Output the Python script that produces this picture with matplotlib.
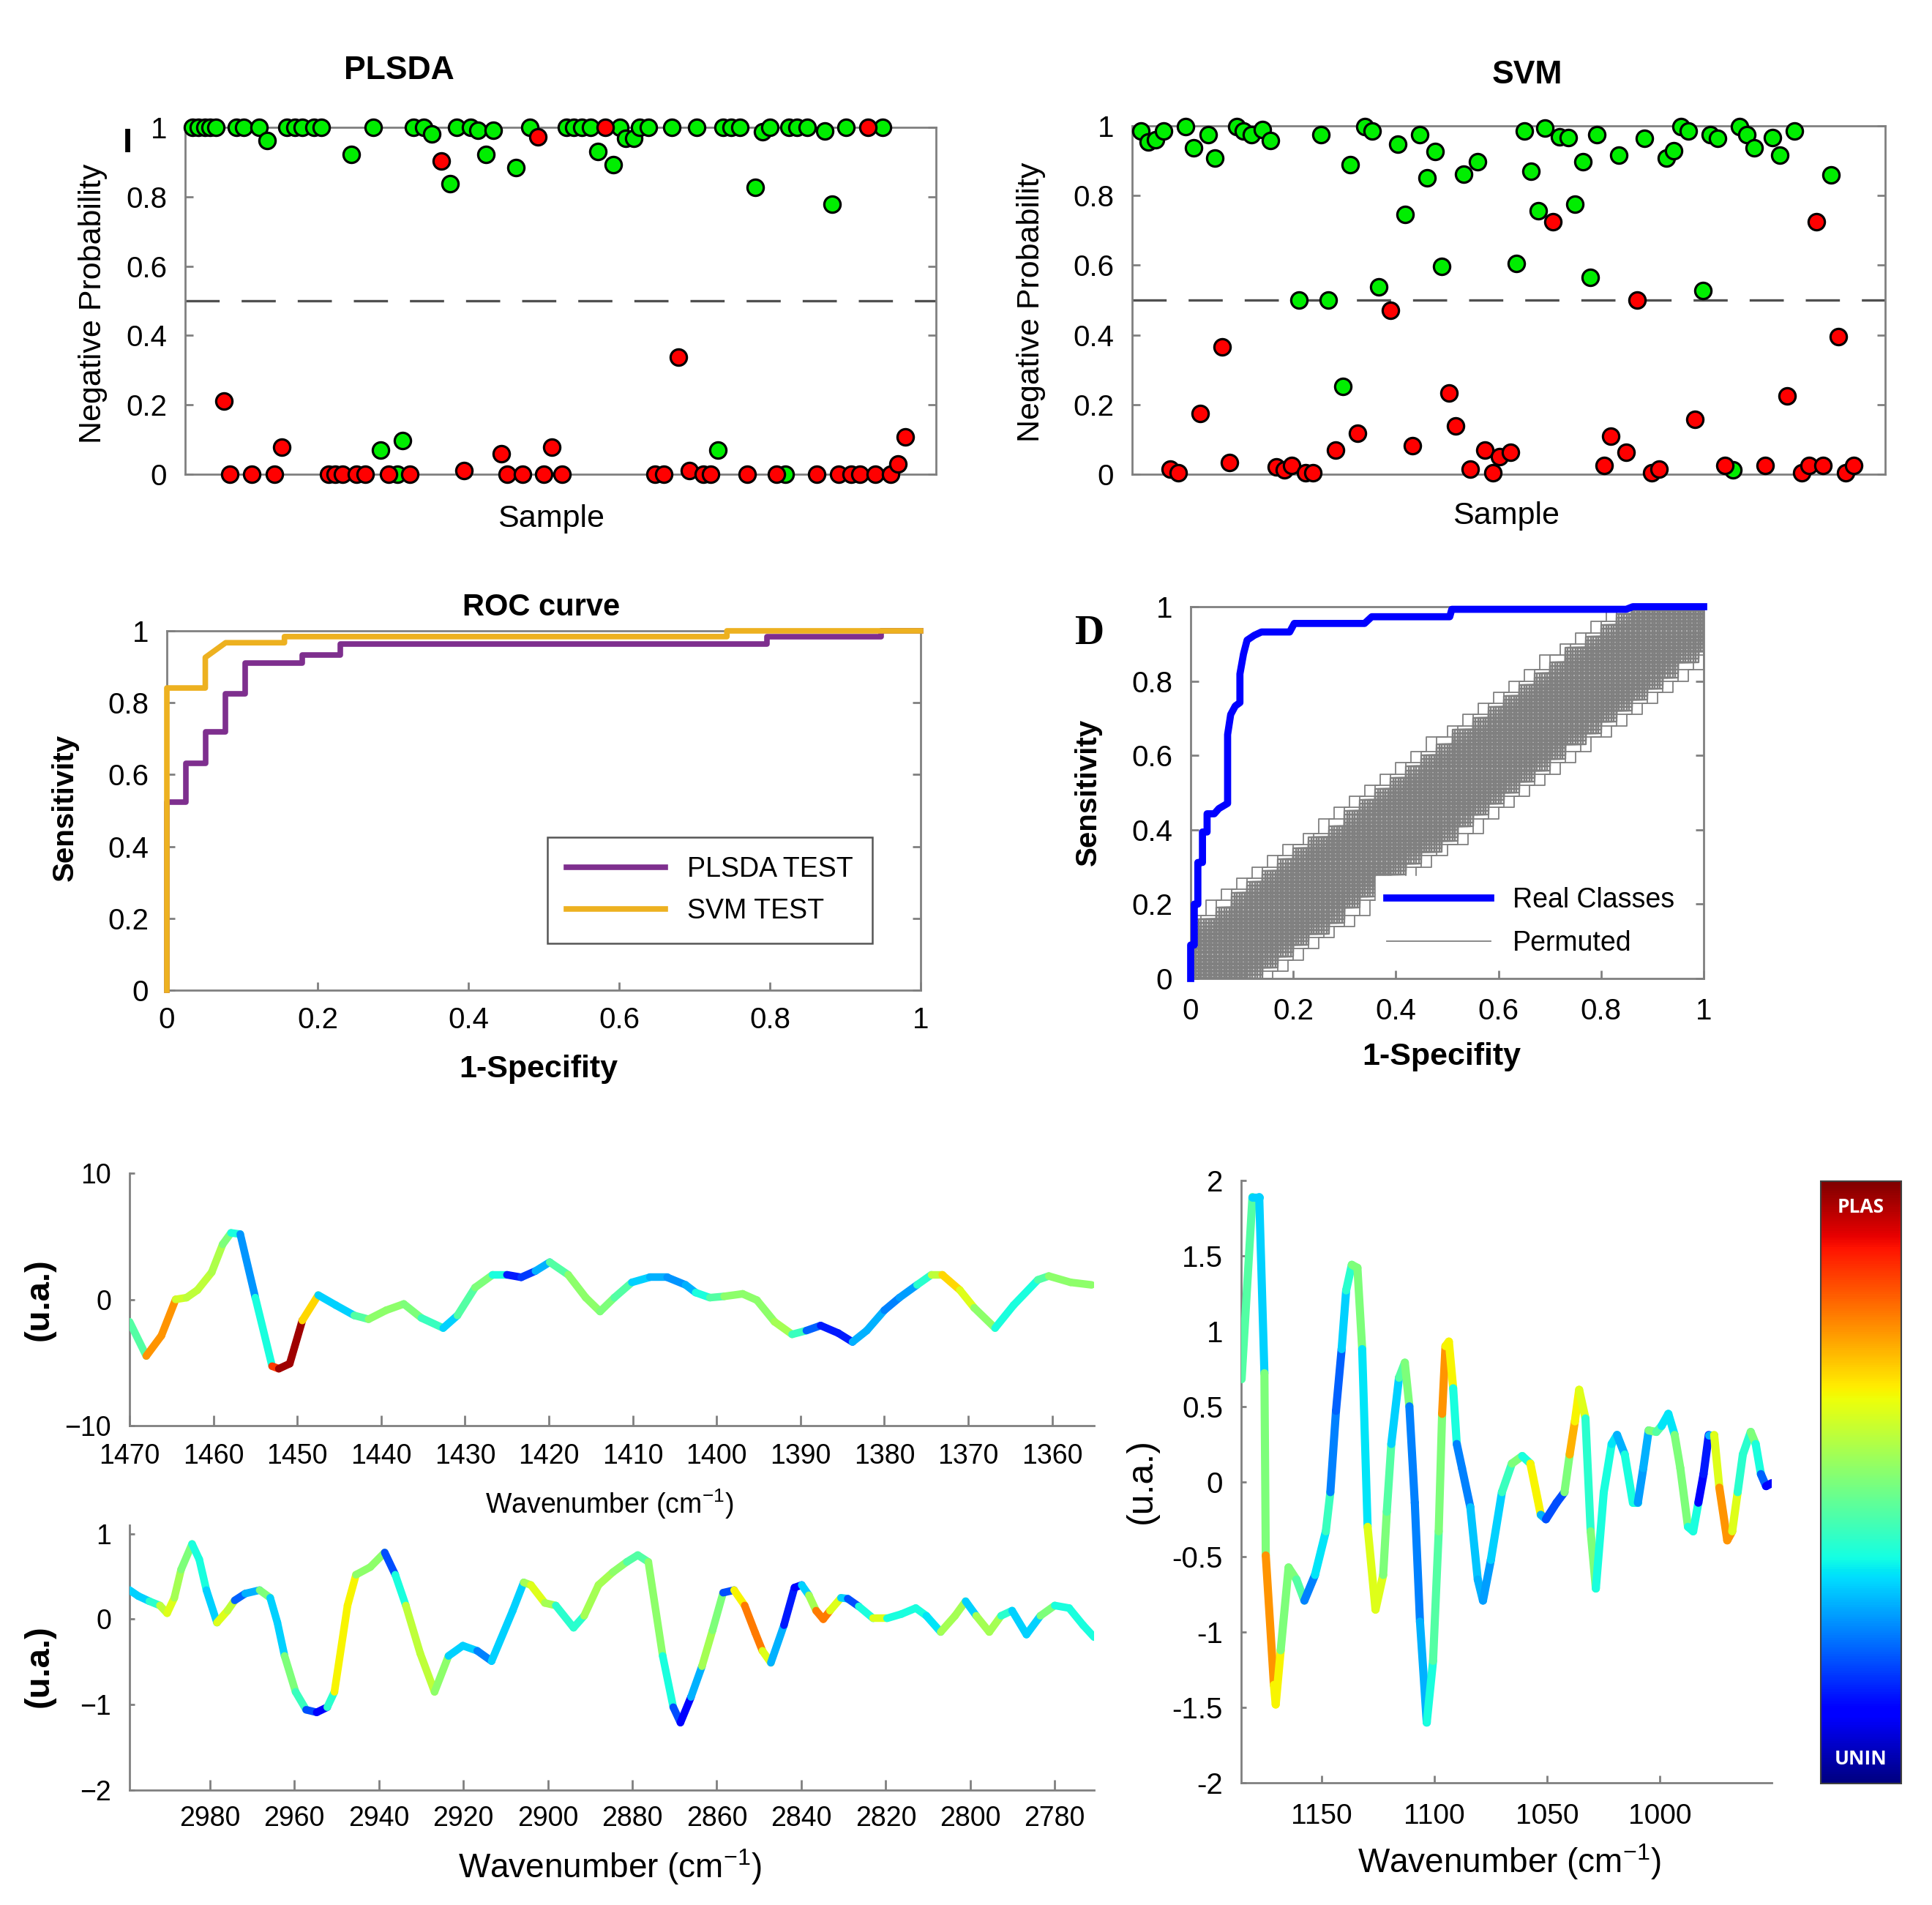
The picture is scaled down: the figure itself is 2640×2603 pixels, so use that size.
"""
Classification summary figure: PLSDA / SVM probabilities, ROC curves,
permutation test and discriminant spectra coloured by class weight.
"""

import matplotlib
matplotlib.use('Agg')
import matplotlib as mpl
import matplotlib.pyplot as plt
import numpy as np
from matplotlib.collections import LineCollection

W, H = 2640, 2603
REGULAR = ['Liberation Sans', 'DejaVu Sans']
plt.rcParams['font.family'] = REGULAR
plt.rcParams['mathtext.default'] = 'regular'

GREEN = '#00ee00'
RED = '#ff0000'
SPINE = '#808080'
PERM_GRAY = '#808080'

# ---- PLSDA negative probability per sample ----
PLSDA_NEG_X = [0.93, 1.77, 2.61, 3.29, 4.13, 6.82, 7.84, 9.86, 10.88, 13.57, 14.58, 15.59,
               17.11, 18.12, 22.17, 25.04, 26.05, 28.25, 28.92, 30.44, 31.78, 32.8, 35.32,
               36.17, 38.02, 39.03, 40.05, 41.06, 44.1, 45.95, 50.76, 51.77, 52.79, 53.96,
               55.0, 57.01, 57.85, 58.69, 59.7, 60.55, 61.72, 64.77, 68.13, 71.0, 71.68,
               72.69, 73.87, 75.89, 76.9, 77.92, 79.93, 80.44, 81.45, 82.8, 85.17, 86.18,
               88.03, 92.92]
PLSDA_NEG_Y = [1, 1, 1, 1, 1, 1, 1, 1, 0.961, 1, 1, 1,
               1, 1, 0.922, 1, 0.069, 0.0, 0.098, 1, 1, 0.982, 0.837,
               1, 1, 0.991, 0.922, 0.991, 0.883, 1, 1, 1, 1, 1,
               0.931, 0.892, 1, 0.968, 0.968, 1, 1, 1, 1, 0.069, 1,
               1, 1, 0.827, 0.988, 1, 0.0, 1, 1, 1, 0.989, 0.779,
               1, 1]
PLSDA_POS_X = [5.14, 5.98, 8.85, 11.88, 12.9, 19.13, 19.98, 20.99, 22.85, 24.02, 27.07,
               29.93, 34.14, 37.18, 42.07, 42.91, 44.93, 46.96, 47.8, 48.8, 50.2, 55.99,
               62.56, 63.75, 65.7, 67.12, 68.98, 69.99, 74.87, 78.75, 84.15, 87.02, 88.71,
               89.88, 90.9, 91.9, 93.93, 94.94, 95.89]
PLSDA_POS_Y = [0.212, 0, 0, 0, 0.078, 0, 0, 0, 0, 0, 0,
               0, 0.903, 0.011, 0.06, 0, 0, 0.972, 0, 0.078, 0, 1,
               0, 0, 0.338, 0.011, 0, 0, 0, 0, 0, 0, 0,
               0, 1, 0, 0, 0.03, 0.107]

# ---- SVM negative probability per sample ----
SVM_NEG_X = [1.17, 2.18, 3.09, 4.2, 7.06, 8.13, 10.08, 11.03, 13.85, 14.73, 15.8, 17.32,
             18.33, 22.13, 25.05, 26.0, 27.98, 28.99, 30.94, 31.89, 32.79, 35.25, 36.26,
             38.18, 39.18, 40.19, 41.13, 43.99, 45.91, 51.05, 52.06, 52.97, 53.91, 54.85,
             56.77, 57.88, 58.79, 59.87, 60.81, 61.72, 64.61, 68.04, 70.9, 71.9, 72.91,
             73.83, 75.84, 76.78, 77.73, 79.82, 80.65, 81.6, 82.57, 85.03, 86.04, 87.96,
             92.77]
SVM_NEG_Y = [0.986, 0.954, 0.961, 0.986, 0.997, 0.937, 0.975, 0.907, 0.997, 0.986, 0.975, 0.99,
             0.957, 0.5, 0.975, 0.5, 0.252, 0.888, 0.997, 0.986, 0.537, 0.947, 0.746,
             0.975, 0.851, 0.926, 0.596, 0.861, 0.898, 0.604, 0.986, 0.870, 0.756, 0.994,
             0.968, 0.966, 0.776, 0.898, 0.566, 0.975, 0.917, 0.965, 0.907, 0.929, 0.997,
             0.986, 0.527, 0.975, 0.965, 0.013, 0.997, 0.975, 0.937, 0.966, 0.917, 0.986,
             0.86]
SVM_POS_X = [5.04, 6.15, 9.07, 11.94, 12.94, 19.17, 20.18, 21.19, 23.04, 24.05, 26.97,
             29.93, 34.31, 37.23, 42.04, 42.98, 44.9, 46.85, 47.93, 48.77, 50.28, 55.86,
             62.66, 63.6, 65.61, 67.03, 68.98, 69.99, 74.77, 78.74, 84.02, 86.98, 88.9,
             89.91, 90.85, 91.76, 93.78, 94.78, 95.79]
SVM_POS_Y = [0.015, 0.005, 0.175, 0.366, 0.033, 0.022, 0.012, 0.025, 0.005, 0.005, 0.07,
             0.118, 0.471, 0.081, 0.233, 0.138, 0.014, 0.07, 0.005, 0.05, 0.062, 0.725,
             0.025, 0.109, 0.062, 0.5, 0.005, 0.014, 0.158, 0.025, 0.025, 0.224, 0.005,
             0.025, 0.725, 0.025, 0.394, 0.005, 0.025]

PROB_TICKS = [0, 0.2, 0.4, 0.6, 0.8, 1]

# ---- ROC curves (step vertices) ----
PLSDA_FPR = [0, 0, 0.025, 0.025, 0.051, 0.051, 0.078, 0.078, 0.104, 0.104, 0.18, 0.18,
             0.23, 0.23, 0.796, 0.796, 0.948, 0.948, 1.0]
PLSDA_TPR = [0, 0.524, 0.524, 0.632, 0.632, 0.718, 0.718, 0.824, 0.824, 0.911, 0.911, 0.932,
             0.932, 0.964, 0.964, 0.984, 0.984, 1.0, 1.0]
SVM_FPR = [0, 0, 0.051, 0.051, 0.078, 0.156, 0.156, 0.743, 0.743, 1.0]
SVM_TPR = [0, 0.841, 0.841, 0.926, 0.967, 0.967, 0.984, 0.984, 1.0, 1.0]

# ---- permutation test ----
REAL_FPR = [0, 0, 0.007, 0.007, 0.014, 0.014, 0.023, 0.023, 0.032, 0.032,
            0.046, 0.055, 0.072, 0.072, 0.078, 0.087, 0.096, 0.096, 0.103, 0.11,
            0.124, 0.138, 0.193, 0.202, 0.339, 0.353, 0.505, 0.509, 0.849, 0.862, 1.0]
REAL_TPR = [0, 0.09, 0.09, 0.2, 0.2, 0.312, 0.312, 0.394, 0.394, 0.443,
            0.443, 0.457, 0.471, 0.656, 0.71, 0.733, 0.742, 0.819, 0.873, 0.91,
            0.923, 0.932, 0.932, 0.955, 0.955, 0.973, 0.973, 0.993, 0.993, 1.0, 1.0]
# permuted curves: a shared fine staircase seen at many offsets
PERM_RISE_X = [0.00, 0.03, 0.06, 0.09, 0.12, 0.16, 0.19, 0.22, 0.25, 0.28, 0.31, 0.34,
               0.38, 0.41, 0.44, 0.47, 0.50, 0.53, 0.56, 0.59, 0.62, 0.66, 0.69, 0.72,
               0.75, 0.78, 0.81, 0.84, 0.88, 0.91, 0.94, 0.97]
PERM_LEVEL_Y = [0.02, 0.05, 0.08, 0.11, 0.14, 0.17, 0.21, 0.24, 0.27, 0.30, 0.33, 0.36,
                0.39, 0.43, 0.46, 0.49, 0.52, 0.55, 0.58, 0.61, 0.65, 0.68, 0.71, 0.74,
                0.77, 0.80, 0.83, 0.87, 0.90, 0.93, 0.96, 1.00]
PERM_OFFSETS = [-0.11, -0.105, -0.10, -0.095, -0.09, -0.085, -0.08, -0.075, -0.07, -0.065,
                -0.06, -0.055, -0.05, -0.045, -0.04, -0.035, -0.03, -0.025, -0.02, -0.015,
                -0.01, -0.005, 0.0, 0.005, 0.01, 0.015, 0.02, 0.025, 0.03, 0.035, 0.04,
                0.045, 0.05, 0.055, 0.06, 0.065, 0.07, 0.075, 0.08, 0.085, 0.09, 0.095,
                0.10, 0.105, 0.11]
PERM_LIFTS = [-0.02, -0.01, 0.0, 0.01, 0.02]
PERM_OUTLIERS = [-0.16, -0.14, 0.14, 0.16]

# ---- spectrum 1470-1355 cm-1 ----
TOP_WN = [1470, 1468, 1466.2, 1464.5, 1463.2, 1461.9, 1460.2, 1458.9, 1457.9, 1456.8,
          1455, 1453, 1452.2, 1450.9, 1449.4, 1447.5, 1445.4, 1443.2, 1441.5, 1439.4,
          1437.3, 1435.2, 1432.6, 1430.9, 1428.8, 1426.7, 1425, 1423.3, 1421.6, 1419.9,
          1417.7, 1415.6, 1413.9, 1412.2, 1410.1, 1408, 1405.9, 1403.7, 1402.5, 1400.8,
          1399.1, 1396.9, 1395.2, 1393.1, 1391, 1389.3, 1387.6, 1385.5, 1383.8, 1382.1,
          1380, 1378.2, 1376.1, 1374.4, 1373.1, 1371, 1369.3, 1366.8, 1364.6, 1361.7,
          1360.4, 1357.8, 1355.3]
TOP_VAL = [-1.77, -4.48, -2.87, 0, 0.14, 0.74, 2.15, 4.36, 5.27, 5.17,
           0.14, -5.29, -5.49, -5.09, -1.67, 0.34, -0.46, -1.27, -1.57, -0.86,
           -0.36, -1.47, -2.27, -1.27, 0.94, 1.95, 1.95, 1.75, 2.25, 2.95,
           1.95, 0.14, -0.96, 0.14, 1.35, 1.75, 1.75, 1.15, 0.54, 0.14,
           0.24, 0.44, -0.06, -1.77, -2.77, -2.47, -2.07, -2.67, -3.37, -2.47,
           -0.86, 0.14, 1.15, 1.95, 1.95, 0.74, -0.66, -2.27, -0.46, 1.55,
           1.85, 1.35, 1.15]
TOP_COL = [0.45, 0.75, 0.75, 0.6, 0.58, 0.58, 0.56, 0.5, 0.38, 0.27,
           0.38, 0.85, 0.97, 0.97, 0.68, 0.33, 0.33, 0.45, 0.52, 0.52,
           0.5, 0.42, 0.33, 0.45, 0.5, 0.38, 0.15, 0.18, 0.3, 0.45,
           0.52, 0.52, 0.5, 0.45, 0.33, 0.3, 0.27, 0.3, 0.38, 0.45,
           0.52, 0.52, 0.52, 0.55, 0.42, 0.22, 0.15, 0.15, 0.3, 0.3,
           0.25, 0.28, 0.4, 0.58, 0.68, 0.62, 0.52, 0.38, 0.38, 0.45,
           0.52, 0.52, 0.52]

# ---- spectrum 3000-2770 cm-1 ----
BOT_WN = [2999, 2996.9, 2994.3, 2991.8, 2990.1, 2988.4, 2986.8, 2984.2, 2982.5, 2980.8,
          2978.3, 2975.8, 2974.1, 2971.6, 2968.2, 2965.7, 2964, 2962.3, 2959.7, 2957.2,
          2954.7, 2952.2, 2950.5, 2947.4, 2945.4, 2942, 2938.6, 2936.1, 2933.6, 2930.2,
          2926.8, 2923.5, 2920.1, 2916.7, 2913.3, 2908.3, 2905.7, 2904, 2900.7, 2898.1,
          2893.9, 2891.4, 2888, 2884.6, 2881.3, 2878.7, 2876.2, 2872.8, 2870.3, 2868.6,
          2866.1, 2863.5, 2861, 2858.5, 2855.9, 2853.4, 2850.9, 2849.2, 2847.2, 2844.1,
          2841.6, 2839.9, 2838.2, 2836.5, 2834.8, 2833.2, 2830.6, 2829, 2826.4, 2823,
          2819.7, 2816.3, 2812.9, 2810.4, 2807, 2803.6, 2801.1, 2798.6, 2795.5, 2792.7,
          2790.1, 2786.7, 2783.4, 2780, 2776.6, 2773.3, 2770.7]
BOT_VAL = [0.34, 0.27, 0.21, 0.16, 0.07, 0.25, 0.58, 0.88, 0.70, 0.34,
           -0.04, 0.10, 0.22, 0.30, 0.34, 0.25, -0.04, -0.43, -0.85, -1.06,
           -1.09, -1.03, -0.85, 0.16, 0.52, 0.61, 0.78, 0.52, 0.16, -0.40,
           -0.85, -0.43, -0.31, -0.37, -0.49, 0.10, 0.43, 0.40, 0.19, 0.16,
           -0.10, 0.04, 0.40, 0.55, 0.67, 0.75, 0.67, -0.43, -1.03, -1.21,
           -0.91, -0.55, -0.13, 0.31, 0.34, 0.16, -0.16, -0.37, -0.51, -0.07,
           0.37, 0.40, 0.28, 0.10, 0.0, 0.10, 0.25, 0.24, 0.15, 0.01,
           0.01, 0.06, 0.13, 0.04, -0.15, 0.04, 0.21, 0.04, -0.15, 0.04,
           0.10, -0.18, 0.04, 0.16, 0.13, -0.07, -0.21]
BOT_COL = [0.33, 0.33, 0.4, 0.58, 0.62, 0.55, 0.5, 0.38, 0.38, 0.33,
           0.62, 0.58, 0.22, 0.3, 0.5, 0.33, 0.33, 0.5, 0.42, 0.2,
           0.12, 0.4, 0.65, 0.65, 0.52, 0.52, 0.2, 0.38, 0.58, 0.58,
           0.52, 0.33, 0.33, 0.25, 0.33, 0.33, 0.55, 0.62, 0.55, 0.4,
           0.4, 0.55, 0.55, 0.52, 0.45, 0.45, 0.52, 0.38, 0.2, 0.12,
           0.3, 0.55, 0.5, 0.2, 0.65, 0.78, 0.78, 0.62, 0.3, 0.15,
           0.12, 0.33, 0.55, 0.78, 0.78, 0.62, 0.33, 0.2, 0.38, 0.62,
           0.38, 0.38, 0.38, 0.35, 0.55, 0.55, 0.33, 0.55, 0.55, 0.4,
           0.33, 0.33, 0.5, 0.38, 0.38, 0.38, 0.52]

# ---- spectrum 1185-950 cm-1 ----
R_WN = [1185.3, 1180.5, 1177.5, 1175.2, 1174.6, 1171.0, 1170.2, 1168.0, 1164.5, 1161.0,
        1157.5, 1152.8, 1148.0, 1146.0, 1143.5, 1141.0, 1139.0, 1136.5, 1134.0, 1131.9,
        1129.5, 1126.0, 1122.6, 1121.0, 1119.0, 1115.6, 1113.0, 1111.0, 1108.6, 1106.3,
        1103.3, 1100.5, 1098.0, 1096.5, 1095.0, 1093.5, 1091.6, 1090.0, 1087.7, 1084.0,
        1080.7, 1078.4, 1074.9, 1070.0, 1065.6, 1061.0, 1057.4, 1052.8, 1050.5, 1045.8,
        1042.3, 1040.0, 1037.7, 1035.8, 1033.0, 1030.7, 1028.4, 1024.9, 1021.4, 1019.0,
        1015.6, 1012.0, 1009.8, 1007.4, 1005.0, 1001.6, 999.3, 996.3, 993.5, 991.0,
        987.6, 985.3, 983.0, 980.7, 978.4, 976.0, 973.7, 970.2, 968.0, 965.6,
        963.3, 959.8, 957.6, 955.3, 953.0, 950.5]
R_VAL = [0.68, 1.89, 1.89, 0.72, -0.49, -1.35, -1.48, -1.12, -0.57, -0.65,
         -0.79, -0.62, -0.33, -0.07, 0.47, 0.88, 1.27, 1.44, 1.42, 0.88,
         -0.30, -0.85, -0.62, -0.20, 0.25, 0.69, 0.79, 0.50, -0.14, -0.93,
         -1.60, -1.19, -0.33, 0.45, 0.90, 0.93, 0.62, 0.25, 0.09, -0.17,
         -0.65, -0.79, -0.52, -0.07, 0.12, 0.17, 0.12, -0.22, -0.25, -0.14,
         -0.07, 0.18, 0.40, 0.61, 0.42, -0.33, -0.71, -0.07, 0.25, 0.31,
         0.18, -0.14, -0.14, 0.09, 0.34, 0.33, 0.37, 0.45, 0.31, 0.09,
         -0.30, -0.33, -0.14, 0.05, 0.31, 0.31, -0.04, -0.39, -0.33, -0.07,
         0.18, 0.33, 0.25, 0.05, -0.03, -0.01]
R_COL = [0.45, 0.33, 0.33, 0.5, 0.75, 0.65, 0.65, 0.5, 0.5, 0.45,
         0.25, 0.35, 0.42, 0.25, 0.22, 0.33, 0.4, 0.5, 0.5, 0.35,
         0.62, 0.62, 0.5, 0.45, 0.33, 0.45, 0.5, 0.25, 0.25, 0.3,
         0.38, 0.45, 0.5, 0.75, 0.65, 0.65, 0.38, 0.25, 0.25, 0.32,
         0.3, 0.28, 0.33, 0.42, 0.5, 0.38, 0.65, 0.3, 0.2, 0.2,
         0.5, 0.72, 0.65, 0.62, 0.4, 0.5, 0.38, 0.38, 0.35, 0.3,
         0.38, 0.38, 0.28, 0.3, 0.5, 0.45, 0.35, 0.35, 0.5, 0.5,
         0.38, 0.38, 0.12, 0.15, 0.3, 0.62, 0.75, 0.75, 0.62, 0.4,
         0.4, 0.5, 0.38, 0.22, 0.12, 0.12]


fig = plt.figure(figsize=(W / 100, H / 100), dpi=100)


def add_axes_px(x0, y0, x1, y1):
    """Axes from pixel box (top-left origin)."""
    return fig.add_axes([x0 / W, 1 - y1 / H, (x1 - x0) / W, (y1 - y0) / H])


def text_px(x, y, s, size, **kw):
    kw.setdefault('ha', 'center')
    kw.setdefault('va', 'center')
    fig.text(x / W, 1 - y / H, s, fontsize=size, **kw)


def style_spines(ax, sides=('left', 'right', 'top', 'bottom')):
    for name, sp in ax.spines.items():
        if name in sides:
            sp.set_color(SPINE)
            sp.set_linewidth(2)
        else:
            sp.set_visible(False)


def fmt(v):
    return f'{v:g}'


def prob_panel(ax, neg_x, neg_y, pos_x, pos_y):
    ax.axhline(0.5, color='#505050', lw=2.4, dashes=(14, 9), zorder=1)
    ax.plot(neg_x, neg_y, 'o', ms=16, mfc=GREEN, mec='black', mew=2.3,
            clip_on=False, zorder=3)
    ax.plot(pos_x, pos_y, 'o', ms=16, mfc=RED, mec='black', mew=2.3,
            clip_on=False, zorder=3)
    ax.set_xlim(0, 100)
    ax.set_ylim(0, 1)
    ax.set_xticks([])
    ax.set_yticks(PROB_TICKS)
    ax.set_yticklabels([fmt(v) for v in PROB_TICKS])
    ax.tick_params(axis='y', direction='in', left=True, right=True, length=8,
                   width=2, color=SPINE, labelsize=29, pad=18)
    style_spines(ax)


def roc_axes(ax, pad_x):
    ax.set_xlim(0, 1)
    ax.set_ylim(0, 1)
    ax.set_xticks(PROB_TICKS)
    ax.set_xticklabels([fmt(v) for v in PROB_TICKS])
    ax.set_yticks(PROB_TICKS)
    ax.set_yticklabels([fmt(v) for v in PROB_TICKS])
    ax.tick_params(axis='both', direction='in', length=8, width=2, color=SPINE,
                   labelsize=29)
    ax.tick_params(axis='y', right=True, pad=18)
    ax.tick_params(axis='x', pad=pad_x)
    style_spines(ax)


def spectrum(ax, wn, val, col, lw):
    n = min(len(wn), len(val), len(col))
    pts = np.column_stack([wn[:n], val[:n]])
    segs = np.stack([pts[:-1], pts[1:]], axis=1)
    lc = LineCollection(segs, cmap='jet', norm=plt.Normalize(0, 1), linewidths=lw,
                        capstyle='round', joinstyle='round', zorder=3)
    lc.set_array(np.asarray(col[:n - 1]))
    ax.add_collection(lc)
    style_spines(ax, sides=('left', 'bottom'))


def perm_curve(ax, off, lift, lw):
    xs = np.clip(np.asarray(PERM_RISE_X) + off, 0, 1)
    ys = np.clip(np.asarray(PERM_LEVEL_Y) + lift, 0, 1)
    ax.step(np.concatenate([[0], xs, [1]]), np.concatenate([[0], ys, [1]]),
            where='post', color=PERM_GRAY, lw=lw, zorder=2)


# ---------- PLSDA ----------
ax1 = add_axes_px(253, 174, 1279, 648)
prob_panel(ax1, PLSDA_NEG_X, PLSDA_NEG_Y, PLSDA_POS_X, PLSDA_POS_Y)
text_px(545, 97, 'PLSDA', 32, fontweight='bold')
text_px(753, 709, 'Sample', 31)
text_px(127, 415, 'Negative Probability', 31, rotation=90)
text_px(174, 196, 'I', 34, fontweight='bold')

# ---------- SVM ----------
ax2 = add_axes_px(1547, 172, 2576, 648)
prob_panel(ax2, SVM_NEG_X, SVM_NEG_Y, SVM_POS_X, SVM_POS_Y)
text_px(2087, 103, 'SVM', 32, fontweight='bold')
text_px(2058, 705, 'Sample', 31)
text_px(1409, 413, 'Negative Probability', 31, rotation=90)

# ---------- ROC ----------
ax3 = add_axes_px(228, 862, 1258, 1353)
ax3.plot(PLSDA_FPR, PLSDA_TPR, color='#7e2f8e', lw=5.5, clip_on=False,
         label='PLSDA TEST', zorder=3)
ax3.plot(SVM_FPR, SVM_TPR, color='#edb120', lw=5.5, clip_on=False,
         label='SVM TEST', zorder=4)
roc_axes(ax3, pad_x=16)
leg = ax3.legend(loc='lower right', bbox_to_anchor=(0.936, 0.13), borderaxespad=0,
                 fontsize=27, handlelength=3.6, fancybox=False, framealpha=1,
                 borderpad=0.7, labelspacing=0.55, handletextpad=0.8)
leg.get_frame().set_edgecolor('#555555')
leg.get_frame().set_linewidth(1.8)
text_px(740, 830, 'ROC curve', 30, fontweight='bold')
text_px(736, 1461, '1-Specifity', 31, fontweight='bold')
text_px(89, 1103, 'Sensitivity', 29, fontweight='bold', rotation=90)

# ---------- permutation test ----------
ax4 = add_axes_px(1627, 829, 2328, 1337)
for lift in PERM_LIFTS:
    for off in PERM_OFFSETS:
        perm_curve(ax4, off, lift, lw=1.7)
for off in PERM_OUTLIERS:
    perm_curve(ax4, off, 0.0, lw=1.3)
perm_handle, = ax4.plot([], [], color=PERM_GRAY, lw=1.3, label='Permuted')
real_handle, = ax4.plot(REAL_FPR, REAL_TPR, color='#0000ff', lw=7, clip_on=False,
                        label='Real Classes', zorder=4)
roc_axes(ax4, pad_x=19)
leg = ax4.legend([real_handle, perm_handle], ['Real Classes', 'Permuted'],
                 loc='lower right', bbox_to_anchor=(0.965, 0.03), borderaxespad=0,
                 fontsize=27, handlelength=3.8, fancybox=False, framealpha=1,
                 labelspacing=0.6, handletextpad=0.8)
leg.get_frame().set_edgecolor('white')
text_px(1970, 1444, '1-Specifity', 31, fontweight='bold')
text_px(1487, 1082, 'Sensitivity', 29, fontweight='bold', rotation=90)
text_px(1488, 866, 'D', 40, fontweight='bold', family='Liberation Serif')

# ---------- spectrum 1470-1355 ----------
ax5 = add_axes_px(177, 1603, 1495, 1948)
spectrum(ax5, TOP_WN, TOP_VAL, TOP_COL, lw=7.5)
ax5.set_xlim(1470, 1355)
ax5.set_ylim(-10, 10)
ax5.set_xticks(list(range(1470, 1355, -10)))
ax5.set_yticks([-10, 0, 10])
ax5.tick_params(axis='x', direction='in', length=10, width=2, color=SPINE,
                labelsize=27, pad=17)
ax5.tick_params(axis='y', direction='in', length=5, width=2, color=SPINE,
                labelsize=27, pad=18)
text_px(833, 2055, 'Wavenumber (cm$^{-1}$)', 27)
text_px(54, 1776, '(u.a.)', 34, fontweight='bold', rotation=90)

# ---------- spectrum 3000-2770 ----------
ax6 = add_axes_px(177, 2084, 1495, 2446)
spectrum(ax6, BOT_WN, BOT_VAL, BOT_COL, lw=7.5)
ax6.set_xlim(2999, 2770.7)
ax6.set_ylim(-2, 1.1)
ax6.set_xticks(list(range(2980, 2770, -20)))
ax6.set_yticks([-2, -1, 0, 1])
ax6.tick_params(axis='x', direction='in', length=10, width=2, color=SPINE,
                labelsize=27, pad=15)
ax6.tick_params(axis='y', direction='in', length=5, width=2, color=SPINE,
                labelsize=27, pad=18)
text_px(833, 2551, 'Wavenumber (cm$^{-1}$)', 33)
text_px(54, 2277, '(u.a.)', 34, fontweight='bold', rotation=90)

# ---------- spectrum 1185-950 ----------
ax7 = add_axes_px(1696, 1613, 2421, 2436)
spectrum(ax7, R_WN, R_VAL, R_COL, lw=8)
ax7.set_xlim(1185.5, 950.5)
ax7.set_ylim(-2, 2)
ax7.set_xticks([1150, 1100, 1050, 1000])
R_YTICKS = [-2, -1.5, -1, -0.5, 0, 0.5, 1, 1.5, 2]
ax7.set_yticks(R_YTICKS)
ax7.set_yticklabels([fmt(v) for v in R_YTICKS])
ax7.tick_params(axis='x', direction='in', length=7, width=2, color=SPINE,
                labelsize=28, pad=20)
ax7.tick_params(axis='y', direction='in', length=5, width=2, color=SPINE,
                labelsize=29, pad=18)
text_px(2062, 2544, 'Wavenumber (cm$^{-1}$)', 33)
text_px(1560, 2024, '(u.a.)', 36, rotation=90)

# ---------- colour bar ----------
cax = add_axes_px(2488, 1614, 2598, 2437)
cb = mpl.colorbar.ColorbarBase(cax, cmap=plt.get_cmap('jet'),
                               norm=plt.Normalize(0, 1), orientation='vertical')
cb.set_ticks([])
cb.outline.set_edgecolor('#404040')
cb.outline.set_linewidth(1.5)
cax.text(0.5, 0.957, 'PLAS', transform=cax.transAxes, color='white', fontsize=19,
         fontweight='bold', ha='center', va='center', family=['Open Sans', 'DejaVu Sans'])
cax.text(0.5, 0.041, 'UNIN', transform=cax.transAxes, color='white', fontsize=19,
         fontweight='bold', ha='center', va='center', family=['Open Sans', 'DejaVu Sans'])

fig.savefig('out.png', dpi=100)
